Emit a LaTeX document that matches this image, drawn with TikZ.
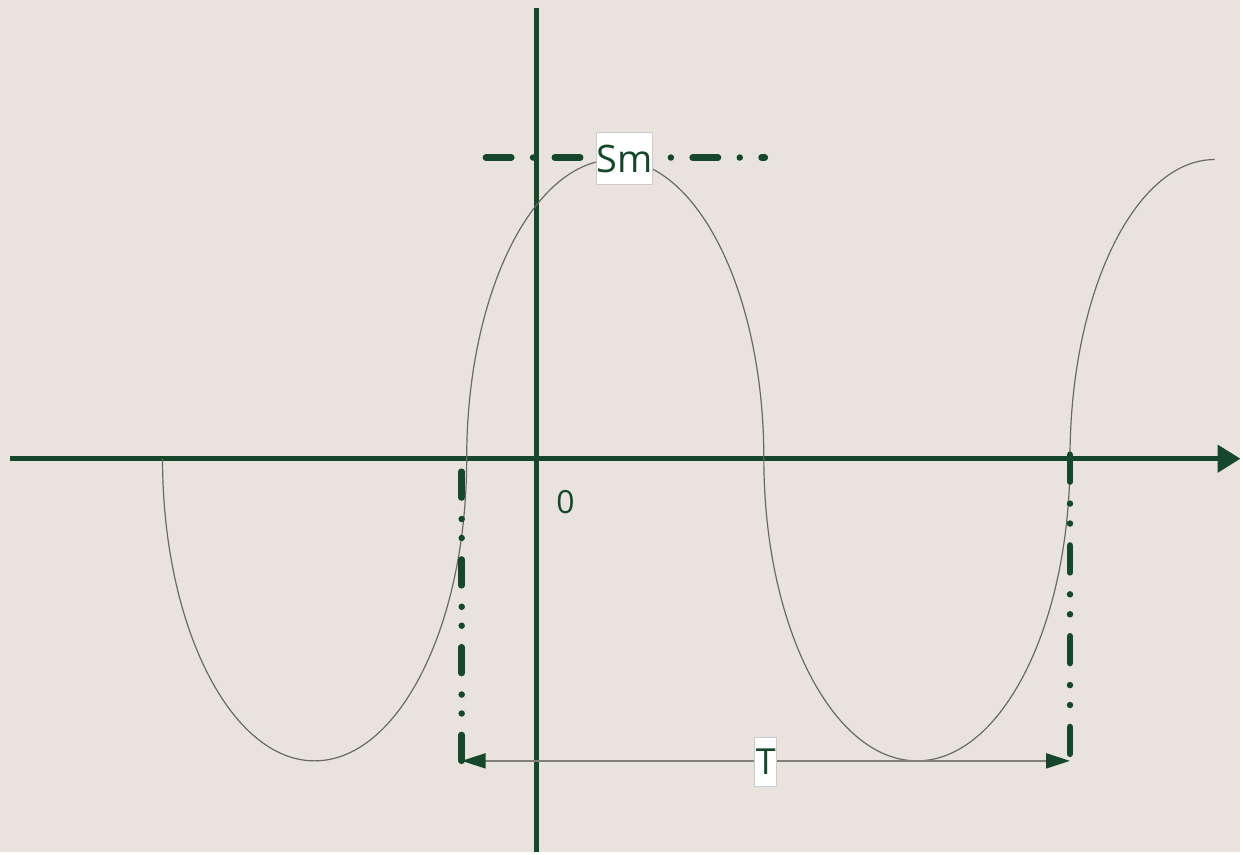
\documentclass[tikz,border=0pt]{standalone}
\usepackage{fontspec}
\setmainfont{Open Sans}
\usepackage{xcolor}
\usetikzlibrary{positioning,arrows.meta,calc}
\definecolor{axisgreen}{RGB}{22,71,42}
\definecolor{paper}{RGB}{232,228,221}
\definecolor{wavegray}{RGB}{105,105,100}
\definecolor{dimgray}{RGB}{128,128,120}

\begin{document}
\begin{tikzpicture}[
    x=0.5pt,y=0.5pt,>=Latex,
    axis/.style={line width=2.5pt,draw=axisgreen},
    wave/.style={line width=0.6pt,draw=wavegray},
    centerline/.style={line width=3.25pt,draw=axisgreen,line cap=round,
      dash pattern=on 12.75pt off 10.9pt on 0pt off 10.9pt},
    extline/.style={line width=3.25pt,draw=axisgreen,line cap=round,
      dash pattern=on 13pt off 10.75pt on 0pt off 9.5pt on 0pt off 10.75pt},
    dimline/.style={line width=1pt,draw=dimgray,
      {Triangle[length=12pt,width=7.5pt,color=axisgreen]}-{Triangle[length=12pt,width=7.5pt,color=axisgreen]}},
    tag/.style={fill=white,draw=black!20,line width=0.4pt,inner sep=0pt,
      text=axisgreen,font=\fontsize{19}{22}\selectfont}
]
\fill[paper] (-538,-394) rectangle (705,460);

\coordinate (O) at (0,0);
\coordinate (xstart) at (-528,0);
\coordinate (xend) at (706,0);
\coordinate (ytop) at (0,452);
\coordinate (ybot) at (0,-394);

\draw[axis,-{Triangle[length=11.5pt,width=13.5pt]}] (xstart) -- (xend);
\draw[axis] (ybot) -- (ytop);

\draw[wave] (-375,0) arc[start angle=180,end angle=360,x radius=152.5,y radius=303]
  arc[start angle=180,end angle=0,x radius=149,y radius=300]
  arc[start angle=180,end angle=360,x radius=153.5,y radius=303]
  arc[start angle=180,end angle=90,x radius=145,y radius=300];

\coordinate (smleft) at (-50.75,302);
\coordinate (smright) at (229,302);
\draw[centerline] (smleft) -- (smright);
\node[tag,minimum width=26.5pt,minimum height=26pt] (sm) at (88.5,301) {Sm};

\coordinate (ltop) at (-75,-13);
\coordinate (lbot) at (-75,-303);
\coordinate (rtop) at (535,4);
\coordinate (rbot) at (535,-297);
\coordinate (rdim) at (535,-303);
\draw[extline] (ltop) -- (lbot);
\draw[extline,dash pattern=on 13.5pt off 11pt on 0pt off 10pt on 0pt off 11pt] (rtop) -- (rbot);

\draw[dimline] (lbot) -- (rdim);
\node[tag,minimum width=11pt,minimum height=24.5pt,
  font=\fontsize{18}{21}\selectfont] (period) at (230,-304) {T};

\node[text=axisgreen,font=\fontsize{16}{19}\selectfont] (origin) at (29,-43) {0};
\end{tikzpicture}
\end{document}
